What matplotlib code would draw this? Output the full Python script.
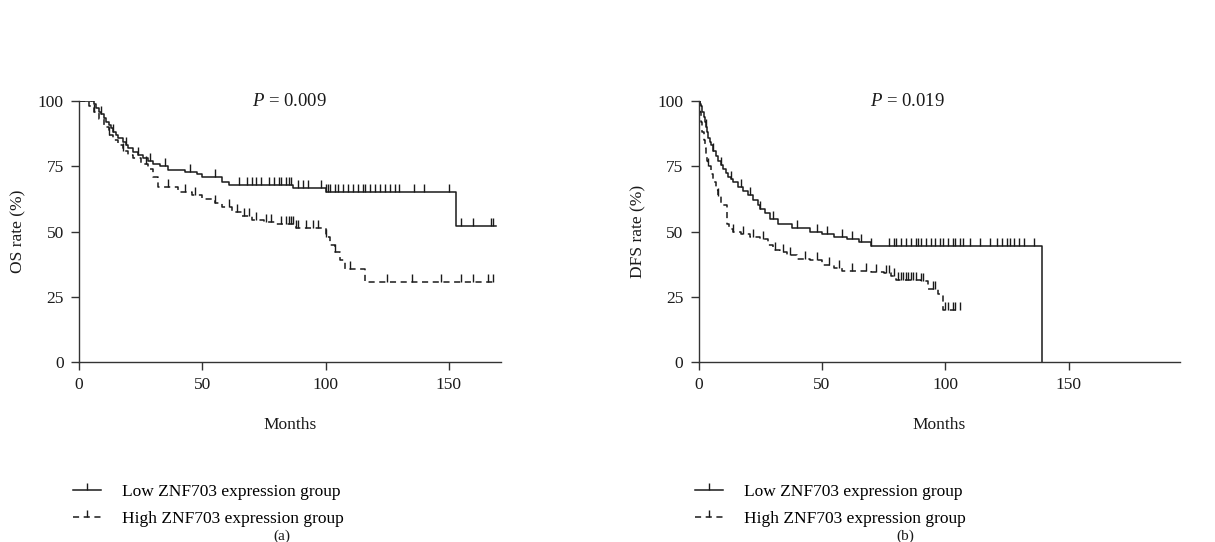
import numpy as np
import matplotlib
matplotlib.use("Agg")
import matplotlib.pyplot as plt
from matplotlib.lines import Line2D

plt.rcParams["font.family"] = ["Liberation Serif", "DejaVu Serif"]
plt.rcParams["mathtext.fontset"] = "custom"
plt.rcParams["mathtext.rm"] = "Liberation Serif"
plt.rcParams["mathtext.it"] = "Liberation Serif:italic"

# Panel (a): overall survival
os_low_t = [0, 6, 7, 8, 9, 10, 11, 12, 13, 14, 15, 16, 18, 19, 20, 22, 24, 26, 28, 30,
            33, 36, 43, 48, 50, 58, 61, 87, 100, 153]
os_low_s = [100, 99, 97.5, 96, 95, 93.5, 92, 91, 89.5, 88, 87, 86, 84.5, 83, 82, 80.5,
            79.5, 78, 77, 76, 75, 73.5, 73, 72, 71, 69, 68, 66.8, 65, 52]
os_low_end = 169
os_low_cens = [5, 9, 14, 19, 24, 29, 35, 45, 55, 65, 68, 70, 72, 74, 77, 79, 81, 82, 84,
               85, 86, 89, 91, 93, 98, 100, 101, 102, 104, 105, 107, 109, 111, 113, 115,
               116, 118, 120, 122, 124, 126, 128, 130, 136, 140, 150, 155, 160, 167, 168]

os_high_t = [0, 4, 6, 8, 10, 12, 14, 16, 18, 20, 22, 25, 28, 30, 32, 40, 46, 50, 55, 58,
             62, 66, 70, 75, 80, 88, 100, 102, 104, 106, 108, 116]
os_high_s = [100, 98, 96, 93, 90, 87, 85, 83, 81, 79.5, 78, 76, 74, 71, 67, 65, 64, 62.5,
             61, 59.5, 57.5, 56, 54.5, 53.5, 53, 51.5, 48, 45, 42, 39, 35.5, 30.5]
os_high_end = 169
os_high_cens = [6, 12, 18, 27, 36, 43, 47, 55, 61, 64, 67, 69, 72, 76, 78, 82, 84, 85, 86,
                87, 88, 89, 92, 95, 97, 100, 104, 110, 125, 135, 147, 155, 160, 166, 168]

# Panel (b): disease-free survival
dfs_low_t = [0, 0.5, 1, 1.5, 2, 2.5, 3, 3.5, 4, 4.5, 5, 6, 7, 8, 9, 10, 11, 12, 13, 14,
             16, 18, 20, 22, 24, 25, 27, 29, 32, 38, 45, 50, 55, 60, 65, 70, 139]
dfs_low_s = [100, 99, 98, 96, 94, 92, 90, 88, 86, 84.5, 83, 81, 79, 77, 75.5, 74, 72.5,
             71, 70, 69, 67, 65.5, 64, 62, 60, 58.5, 57, 55, 53, 51.5, 50, 49, 48, 47, 46,
             44.5, 0]
dfs_low_end = 139
dfs_low_cens = [3, 6, 9, 13, 17, 21, 25, 30, 40, 48, 52, 58, 62, 66, 70, 77, 79, 80, 82,
                84, 86, 88, 89, 90, 92, 94, 96, 98, 99, 101, 103, 104, 106, 107, 110, 114,
                118, 121, 123, 125, 126, 128, 130, 132, 136]

dfs_high_t = [0, 0.5, 1, 1.5, 2, 2.5, 3, 3.5, 4, 5, 6, 7, 8, 9, 10, 11.5, 12.5, 14, 17,
              21, 25, 28, 30, 33, 36, 40, 45, 50, 55, 58, 70, 75, 78, 80, 90, 93, 97, 99]
dfs_high_s = [100, 96, 92, 88, 85, 82, 79, 77, 75, 72, 69, 66, 63.5, 61, 60, 53, 51, 50,
              49, 48, 47, 45, 43, 42, 41, 39.5, 39, 37, 36, 35, 34.5, 34, 33, 31.5, 31,
              28, 26, 20]
dfs_high_end = 106
dfs_high_cens = [4, 8, 14, 18, 22, 26, 31, 34, 37, 43, 48, 53, 57, 62, 68, 72, 76, 77, 79,
                 81, 82, 83, 84, 85, 86, 87, 88, 90, 91, 95, 96, 100, 101, 103, 104, 106]

labels = ["Low ZNF703 expression group", "High ZNF703 expression group"]
p_texts = ["0.009", "0.019"]
ylabels = ["OS rate (%)", "DFS rate (%)"]
panel_tags = ["(a)", "(b)"]

COLOR = "#1a1a1a"
FS = 12.5


def step_value(times, surv, x):
    idx = np.searchsorted(times, x, side="right") - 1
    return np.asarray(surv)[idx]


def draw_curve(ax, times, surv, end, cens, ls):
    t = list(times) + [end]
    s = list(surv) + [surv[-1]]
    ax.step(t, s, where="post", color=COLOR, lw=1.1, ls=ls,
            dashes=(4, 3) if ls == "--" else (None, None))
    ax.plot(cens, step_value(times, surv, cens), ls="none", marker=2,
            markersize=5.5, markeredgewidth=1.0, color=COLOR)


fig = plt.figure(figsize=(12.15, 5.42), dpi=100)
ax_a = fig.add_axes([0.065, 0.332, 0.347, 0.4815])
ax_b = fig.add_axes([0.575, 0.332, 0.396, 0.4815])

panels = [
    (ax_a, (os_low_t, os_low_s, os_low_end, os_low_cens),
     (os_high_t, os_high_s, os_high_end, os_high_cens), 171, 85.5, 0.060, 0.232),
    (ax_b, (dfs_low_t, dfs_low_s, dfs_low_end, dfs_low_cens),
     (dfs_high_t, dfs_high_s, dfs_high_end, dfs_high_cens), 195, 84.5, 0.572, 0.745),
]

for i, (ax, low, high, xmax, px, leg_x, tag_x) in enumerate(panels):
    draw_curve(ax, *low, "-")
    draw_curve(ax, *high, "--")
    ax.set_xlim(0, xmax)
    ax.set_ylim(0, 100)
    ax.set_xticks([0, 50, 100, 150])
    ax.set_yticks([0, 25, 50, 75, 100])
    for side in ["top", "right"]:
        ax.spines[side].set_visible(False)
    for side in ["left", "bottom"]:
        ax.spines[side].set_color("#333333")
        ax.spines[side].set_linewidth(1.0)
    ax.tick_params(direction="out", length=6, width=1.0, color="#333333",
                   labelsize=FS, labelcolor=COLOR, pad=5)
    ax.set_xlabel("Months", fontsize=FS, color=COLOR, labelpad=17)
    ax.set_ylabel(ylabels[i], fontsize=FS, color=COLOR, labelpad=8)
    ax.text(px, 100, r"$P$ = " + p_texts[i], fontsize=13.5, color=COLOR,
            ha="center", va="center", clip_on=False)

    handles = [
        Line2D([], [], color=COLOR, lw=1.1, ls="-", marker=2, markersize=5),
        Line2D([], [], color=COLOR, lw=1.1, ls=(0, (4, 3)), marker=2, markersize=5),
    ]
    fig.legend(handles, labels, loc="upper left",
               bbox_to_anchor=(leg_x, 0.107),
               bbox_transform=fig.transFigure, frameon=False, fontsize=FS,
               handlelength=1.6, handletextpad=1.25, labelspacing=0.6,
               numpoints=1, borderaxespad=0, borderpad=0)
    fig.text(tag_x, 0.011, panel_tags[i], fontsize=FS - 1.5, color=COLOR,
             ha="center", va="center")

fig.savefig("out.png", dpi=100)
